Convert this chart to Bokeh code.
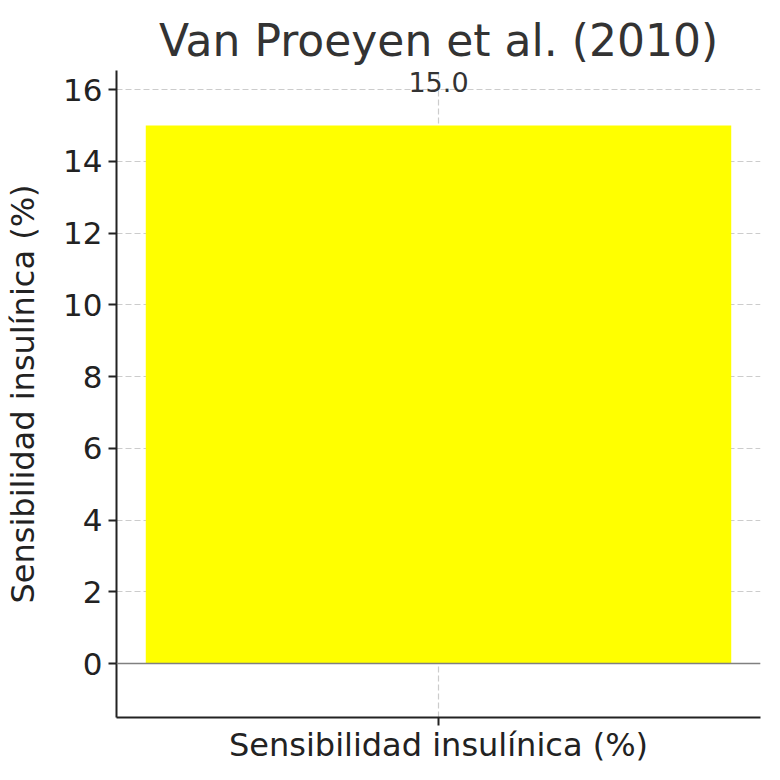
from bokeh.plotting import figure
from bokeh.models import Range1d, FixedTicker, Span, LabelSet, ColumnDataSource
from bokeh.core.properties import value
from bokeh.embed import file_html
from bokeh.resources import INLINE

title_text = "Van Proeyen et al. (2010)"
y_label = "Sensibilidad insulínica (%)"
categories = ["Sensibilidad insulínica (%)"]
values = [15.0]
y_ticks = [0, 2, 4, 6, 8, 10, 12, 14, 16]

xs = list(range(len(categories)))
src = ColumnDataSource(dict(x=xs, top=values, lab=[f"{v:.1f}" for v in values]))

FONT = "DejaVu Sans"
p = figure(width=780, height=780, output_backend="svg", toolbar_location=None,
           x_range=Range1d(-0.44, len(categories) - 1 + 0.44),
           y_range=Range1d(-1.505, 16.53),
           min_border_left=116, min_border_right=20, min_border_top=70, min_border_bottom=63)

p.title.text = title_text
p.title.text_font = FONT
p.title.text_font_size = "44px"
p.title.text_font_style = "normal"
p.title.text_color = "#333333"
p.title.align = "center"
p.title.offset = 0
p.title.standoff = 10

p.vbar(x="x", top="top", bottom=0, width=0.8, source=src, fill_color="#ffff00", line_color=None)
p.add_layout(Span(location=0, dimension="width", line_color="#808080", line_width=1.5))
p.add_layout(LabelSet(x="x", y="top", text="lab", source=src, y_offset=33, text_align="center",
                      text_baseline="alphabetic", text_font=value(FONT), text_font_size="27px",
                      text_color="#333333"))

p.outline_line_color = None
p.background_fill_color = "white"
p.border_fill_color = "white"

p.xaxis.ticker = FixedTicker(ticks=xs)
p.xaxis.major_label_overrides = {x: c for x, c in zip(xs, categories)}
p.yaxis.ticker = FixedTicker(ticks=y_ticks)
p.yaxis.axis_label = y_label

for ax in (p.xaxis, p.yaxis):
    ax.axis_line_width = 2
    ax.axis_line_color = "#222222"
    ax.major_tick_line_width = 2
    ax.major_tick_line_color = "#222222"
    ax.major_tick_out = 8
    ax.major_tick_in = 0
    ax.minor_tick_line_color = None
    ax.major_label_text_font = FONT
    ax.major_label_text_font_size = "31px"
    ax.major_label_text_color = "#222222"
    ax.axis_label_text_font = FONT
    ax.axis_label_text_font_size = "32px"
    ax.axis_label_text_font_style = "normal"
    ax.axis_label_text_color = "#222222"
p.xaxis.major_label_text_font_size = "32px"
p.xaxis.major_label_standoff = 0
p.yaxis.major_label_standoff = 6
p.yaxis.axis_label_standoff = 18

for g in (p.xgrid, p.ygrid):
    g.grid_line_color = "#cccccc"
    g.grid_line_dash = "6 3"
    g.grid_line_width = 1.2
p.xgrid.ticker = FixedTicker(ticks=xs)
p.ygrid.ticker = FixedTicker(ticks=y_ticks)

open("out.html", "w").write(file_html(p, INLINE))
